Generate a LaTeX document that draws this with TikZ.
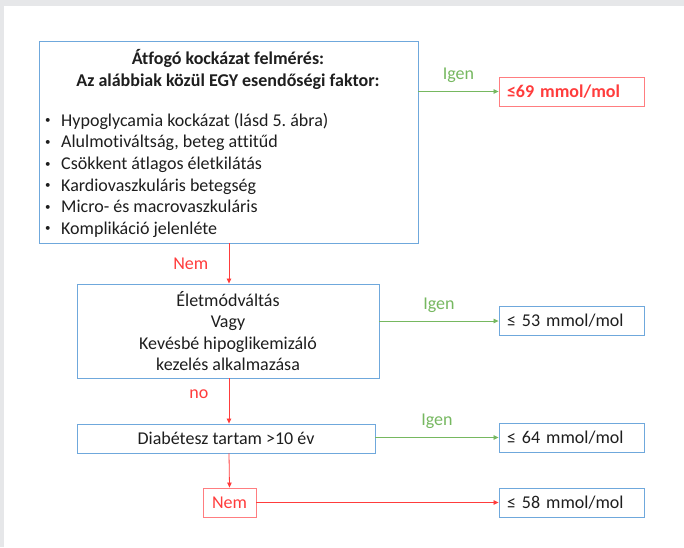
\documentclass[tikz,border=0pt]{standalone}
\usepackage{fontspec}
\setmainfont{Carlito}[Ligatures=NoCommon]
\usetikzlibrary{arrows.meta}

\definecolor{boxblue}{RGB}{111,168,220}
\definecolor{nored}{RGB}{255,60,60}
\definecolor{lightred}{RGB}{255,125,128}
\definecolor{yesgreen}{RGB}{118,184,96}
\definecolor{bggray}{RGB}{230,231,233}
\definecolor{txtgray}{RGB}{30,30,30}

\newcommand{\listdot}{\makebox[18pt][l]{\hspace{2pt}\raisebox{2.5pt}{\fontsize{11}{11}\selectfont•}}}

\tikzset{
  box/.style={draw=boxblue, line width=0.9pt, inner sep=0pt, align=center, text=txtgray},
  goalbox/.style={box, minimum width=145pt, minimum height=29pt, text width=129pt, align=left},
  noline/.style={draw=nored, line width=0.8pt, -{Triangle[length=5pt,width=4.5pt]}},
  yesline/.style={draw=yesgreen, line width=0.8pt, -{Triangle[length=5pt,width=4.5pt]}},
  nolabel/.style={text=nored},
  yeslabel/.style={text=yesgreen, above=5pt}
}

\begin{document}
\begin{tikzpicture}[x=1pt, y=-1pt, font=\fontsize{18}{21.3}\selectfont]
  % background
  \fill[bggray] (0,0) rectangle (684,547);
  \fill[white] (4,6) rectangle (684,547);
  \useasboundingbox (0,0) rectangle (684,547);

  % left column
  \node[box, minimum width=379pt, minimum height=202pt] (risk) at (228.5,142) {};
  \node[text=txtgray, align=center, font=\fontsize{18}{22}\selectfont\bfseries] (risktitle) at (228,69) {Átfogó kockázat felmérés:\\Az alábbiak közül EGY esendőségi faktor:};
  \node[text=txtgray, align=left, anchor=north west, inner sep=0pt, font=\fontsize{18}{21.6}\selectfont] (risklist) at (43,113) {%
    \listdot Hypoglycamia kockázat (lásd 5.\ ábra)\\
    \listdot Alulmotiváltság, beteg at{}t{}i{}tűd\\
    \listdot Csökkent átlagos életkilátás\\
    \listdot Kardiovaszkuláris betegség\\
    \listdot Micro- és macrovaszkuláris\\
    \listdot Komplikáció jelenléte};
  \node[box, minimum width=302pt, minimum height=94pt] (lifestyle) at (228,331) {Életmódváltás\\Vagy\\Kevésbé hipoglikemizáló\\kezelés alkalmazása};
  \node[box, minimum width=298pt, minimum height=29pt] (duration) at (226,438.5) {Diabétesz tartam >10 év};
  \node[box, draw=lightred, text=nored, minimum width=53pt, minimum height=29pt] (nembox) at (229.5,502.5) {Nem};

  % right column
  \node[goalbox, draw=lightred, text=nored, font=\fontsize{18}{21.3}\selectfont\bfseries] (goal69) at (571.5,91.5) {≤69 mmol/mol};
  \node[goalbox] (goal53) at (571.5,321) {≤ 53 mmol/mol};
  \node[goalbox] (goal64) at (571.5,437.5) {≤ 64 mmol/mol};
  \node[goalbox] (goal58) at (571.5,502.5) {≤ 58 mmol/mol};

  % connectors
  \draw[yesline] (risk.east |- goal69.west) to node[yeslabel] {Igen} (goal69.west);
  \draw[yesline] (lifestyle.east |- goal53.west) to node[yeslabel] {Igen} (goal53.west);
  \draw[yesline] (duration.east |- goal64.west) to node[yeslabel] {Igen} (goal64.west);
  \draw[noline] (nembox.east) -- (goal58.west);

  \draw[noline] (risk.south -| 229,0) to node[nolabel, left=17pt] {Nem} (lifestyle.north -| 229,0);
  \draw[noline] (lifestyle.south -| 229,0) to node[nolabel, left=17pt, pos=0.35] {no} (duration.north -| 229,0);
  \draw[noline] (duration.south -| 229,0) -- (nembox.north);
\end{tikzpicture}
\end{document}
